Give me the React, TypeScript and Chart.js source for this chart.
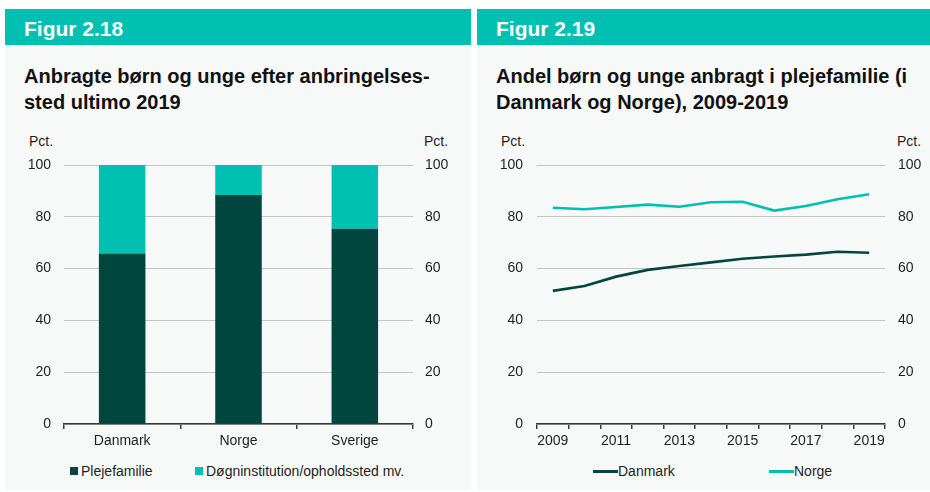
import React, { useEffect, useRef } from "react";
import { Chart, registerables } from "chart.js";

Chart.register(...registerables);

const barCategories = ["Danmark", "Norge", "Sverige"];
const plejefamilieShare = [65.8, 88.4, 75.4];
const institutionShare = [34.2, 11.6, 24.6];

const years = ["2009", "2010", "2011", "2012", "2013", "2014", "2015", "2016", "2017", "2018", "2019"];
const danmarkSeries = [51.4, 53.3, 56.9, 59.5, 61.0, 62.4, 63.8, 64.7, 65.4, 66.5, 66.1];
const norgeSeries = [83.5, 82.9, 83.8, 84.7, 83.9, 85.6, 85.8, 82.4, 84.2, 86.8, 88.7];

const yMin = 0;
const yMax = 100;
const yStep = 20;

const DARK = "#00463F";
const TEAL = "#00C1B1";
const BG = "#F7F9F9";
const GRID = "#C4C4C4";
const AXIS = "#3A3A3A";
const TEXT = "#1E1E1E";
const FONT = '"Liberation Sans", Arial, Helvetica, sans-serif';

Chart.defaults.font.family = FONT;
Chart.defaults.color = TEXT;

function yScales(leftW: number, rightW: number, leftPad: number, rightPad: number, stacked: boolean) {
  return {
    y: {
      position: "left",
      min: yMin,
      max: yMax,
      stacked,
      afterFit: (s: any) => {
        s.width = leftW;
      },
      ticks: { stepSize: yStep, padding: leftPad, color: TEXT, font: { size: 14 } },
      grid: { color: GRID, lineWidth: 1, drawTicks: false },
      border: { display: false },
    },
    y2: {
      position: "right",
      min: yMin,
      max: yMax,
      afterFit: (s: any) => {
        s.width = rightW;
      },
      ticks: { stepSize: yStep, padding: rightPad, color: TEXT, font: { size: 14 } },
      grid: { display: false, drawTicks: false },
      border: { display: false },
    },
  };
}

function BarChart() {
  const ref = useRef<HTMLCanvasElement | null>(null);
  useEffect(() => {
    if (!ref.current) return;
    const chart = new Chart(ref.current, {
      type: "bar",
      data: {
        labels: barCategories,
        datasets: [
          {
            label: "Plejefamilie",
            data: plejefamilieShare,
            backgroundColor: DARK,
            barPercentage: 0.4,
            categoryPercentage: 1,
          },
          {
            label: "Døgninstitution/opholdssted mv.",
            data: institutionShare,
            backgroundColor: TEAL,
            barPercentage: 0.4,
            categoryPercentage: 1,
          },
        ],
      },
      options: {
        responsive: false,
        animation: false,
        layout: { padding: { top: 35, bottom: 0, left: 0, right: 0 } },
        plugins: { legend: { display: false }, tooltip: { enabled: false } },
        scales: {
          x: {
            stacked: true,
            afterFit: (s: any) => {
              s.height = 26;
            },
            ticks: { padding: 4, color: TEXT, font: { size: 14 } },
            grid: { drawOnChartArea: false, drawTicks: true, tickLength: 5, color: AXIS, lineWidth: 1.5 },
            border: { display: true, color: AXIS, width: 1.5 },
          },
          ...yScales(59, 58, 13, 12, true),
        },
      } as any,
    });
    return () => chart.destroy();
  }, []);
  return <canvas ref={ref} width={466} height={320} style={{ width: 466, height: 320, display: "block" }} />;
}

function LineChart() {
  const ref = useRef<HTMLCanvasElement | null>(null);
  useEffect(() => {
    if (!ref.current) return;
    const chart = new Chart(ref.current, {
      type: "line",
      data: {
        labels: years,
        datasets: [
          {
            label: "Danmark",
            data: danmarkSeries,
            borderColor: DARK,
            backgroundColor: DARK,
            borderWidth: 2.6,
            pointRadius: 0,
            tension: 0,
          },
          {
            label: "Norge",
            data: norgeSeries,
            borderColor: TEAL,
            backgroundColor: TEAL,
            borderWidth: 2.6,
            pointRadius: 0,
            tension: 0,
          },
        ],
      },
      options: {
        responsive: false,
        animation: false,
        layout: { padding: { top: 35, bottom: 0, left: 0, right: 0 } },
        plugins: { legend: { display: false }, tooltip: { enabled: false } },
        scales: {
          x: {
            offset: true,
            afterFit: (s: any) => {
              s.height = 26;
            },
            ticks: {
              padding: 4,
              color: TEXT,
              font: { size: 14 },
              autoSkip: false,
              maxRotation: 0,
              callback: (_v: any, i: number) => (i % 2 === 0 ? years[i] : ""),
            },
            grid: { offset: true, drawOnChartArea: false, drawTicks: true, tickLength: 5, color: AXIS, lineWidth: 1.5 },
            border: { display: true, color: AXIS, width: 1.5 },
          },
          ...yScales(60, 45, 14, 13, false),
        },
      } as any,
    });
    return () => chart.destroy();
  }, []);
  return <canvas ref={ref} width={453} height={320} style={{ width: 453, height: 320, display: "block" }} />;
}

const abs = (o: React.CSSProperties): React.CSSProperties => ({ position: "absolute", ...o });

function Panel(props: {
  left: number;
  width: number;
  fig: string;
  title: React.ReactNode;
  pctRight: number;
  children: React.ReactNode;
  legend: React.ReactNode;
}) {
  const { left, width } = props;
  return (
    <div style={abs({ left, top: 9, width, height: 481, background: BG })}>
      <div
        style={abs({
          left: 0,
          top: 0,
          width,
          height: 36,
          background: TEAL,
          color: "#fff",
          fontWeight: "bold",
          fontSize: 21,
          lineHeight: "39px",
          paddingLeft: 19,
          boxSizing: "border-box",
        })}
      >
        {props.fig}
      </div>
      <div
        style={abs({
          left: 19,
          top: 54,
          fontWeight: "bold",
          fontSize: 20,
          lineHeight: "26px",
          color: "#111",
          whiteSpace: "nowrap",
        })}
      >
        {props.title}
      </div>
      <div style={abs({ left: 24, top: 124, fontSize: 14, lineHeight: "16px", color: TEXT })}>Pct.</div>
      <div style={abs({ left: props.pctRight, top: 124, fontSize: 14, lineHeight: "16px", color: TEXT })}>Pct.</div>
      <div style={abs({ left: 0, top: 121 })}>{props.children}</div>
      {props.legend}
    </div>
  );
}

export default function App() {
  return (
    <div style={abs({ left: 0, top: 0, width: 930, height: 492, background: "#fff", fontFamily: FONT, overflow: "hidden" })}>
      <Panel
        left={5}
        width={466}
        fig="Figur 2.18"
        pctRight={419}
        title={
          <>
            Anbragte børn og unge efter anbringelses-
            <br />
            sted ultimo 2019
          </>
        }
        legend={
          <div style={abs({ left: 0, top: 458, fontSize: 14, lineHeight: "16px", color: TEXT })}>
            <div style={abs({ left: 65, top: 0, width: 8, height: 8, background: DARK })} />
            <div style={abs({ left: 76, top: -4, whiteSpace: "nowrap" })}>Plejefamilie</div>
            <div style={abs({ left: 190, top: 0, width: 8, height: 8, background: TEAL })} />
            <div style={abs({ left: 201, top: -4, whiteSpace: "nowrap" })}>Døgninstitution/opholdssted mv.</div>
          </div>
        }
      >
        <BarChart />
      </Panel>
      <Panel
        left={477}
        width={453}
        fig="Figur 2.19"
        pctRight={420}
        title={
          <>
            Andel børn og unge anbragt i plejefamilie (i
            <br />
            Danmark og Norge), 2009-2019
          </>
        }
        legend={
          <div style={abs({ left: 0, top: 458, fontSize: 14, lineHeight: "16px", color: TEXT })}>
            <div style={abs({ left: 116, top: 2.5, width: 25, height: 3, background: DARK })} />
            <div style={abs({ left: 141, top: -4, whiteSpace: "nowrap" })}>Danmark</div>
            <div style={abs({ left: 292, top: 2.5, width: 25, height: 3, background: TEAL })} />
            <div style={abs({ left: 317, top: -4, whiteSpace: "nowrap" })}>Norge</div>
          </div>
        }
      >
        <LineChart />
      </Panel>
    </div>
  );
}
